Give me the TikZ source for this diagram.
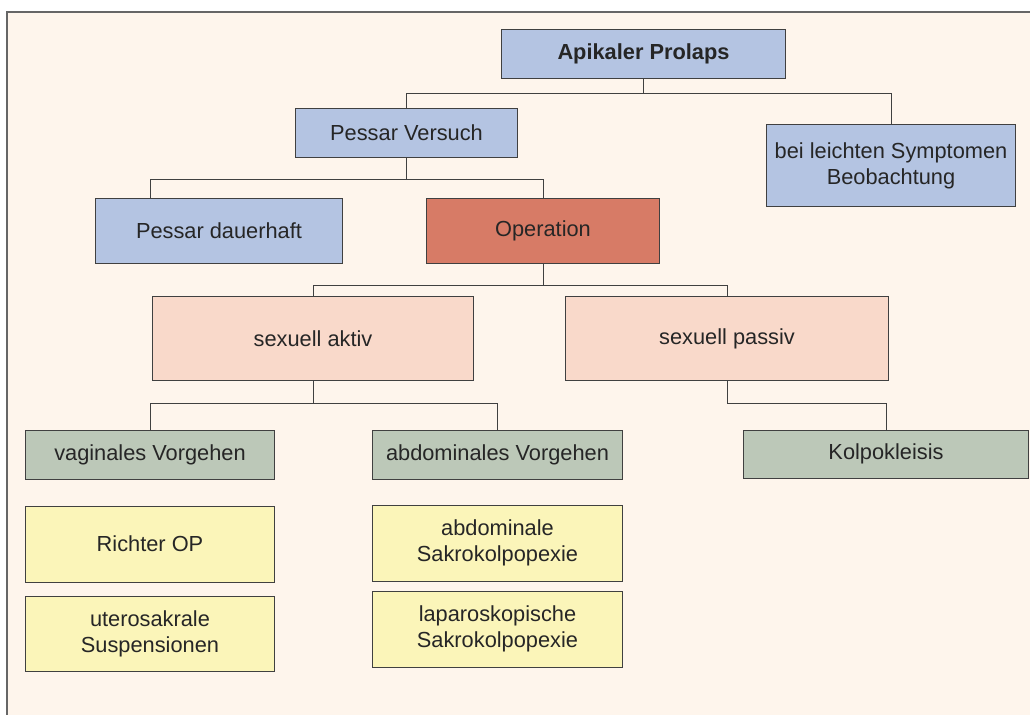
\documentclass[tikz,border=0pt]{standalone}
\usepackage{fontspec}
\setmainfont{Liberation Sans}
\definecolor{paper}{HTML}{FEF5EC}
\definecolor{boxblue}{HTML}{B4C4E2}
\definecolor{boxred}{HTML}{D77B66}
\definecolor{boxrose}{HTML}{F9D9CA}
\definecolor{boxgreen}{HTML}{BCC8B8}
\definecolor{boxyellow}{HTML}{FBF5B9}
\begin{document}
\begin{tikzpicture}[x=0.025cm,y=-0.025cm,
	box/.style={draw=black!75, line width=0.7pt, text=black!85, align=center, inner sep=0pt,
		font=\fontsize{15.5}{18.5}\selectfont},
	edge/.style={draw=black!75, line width=0.7pt}]
	\useasboundingbox (0,0) rectangle (1030,715);
	\fill[paper] (7,12) rectangle (1030,715);
	\draw[black!60, line width=1pt] (7,715) -- (7,12) -- (1030,12);
	% boxes
	\node (AP) at (643.5, 54)	[box, fill = boxblue,   minimum width=7.075cm, minimum height=1.2cm]	{\textbf{Apikaler Prolaps}};
	\node (PV) at (406.5,133)	[box, fill = boxblue,   minimum width=5.525cm, minimum height=1.2cm]	{Pessar Versuch};
	\node (BL) at (891,165.5)	[box, fill = boxblue,   minimum width=6.2cm,   minimum height=2.025cm]	{bei leichten Symptomen\\Beobachtung};
	\node (PD) at (219,231)		[box, fill = boxblue,   minimum width=6.15cm,  minimum height=1.6cm]	{Pessar dauerhaft};
	\node (OP) at (543,231)		[box, fill = boxred,    minimum width=5.8cm,   minimum height=1.6cm]	{Operation};
	\node (SA) at (313,338.5)	[box, fill = boxrose,   minimum width=8cm,     minimum height=2.075cm]	{sexuell aktiv};
	\node (SP) at (727,338.5)	[box, fill = boxrose,   minimum width=8.05cm,  minimum height=2.075cm]	{sexuell passiv};
	\node (VV) at (150,454.5)	[box, fill = boxgreen,  minimum width=6.2cm,   minimum height=1.225cm]	{vaginales Vorgehen};
	\node (AV) at (497.5,454.5)	[box, fill = boxgreen,  minimum width=6.225cm, minimum height=1.225cm]	{abdominales Vorgehen};
	\node (KO) at (886,454)		[box, fill = boxgreen,  minimum width=7.1cm,   minimum height=1.2cm]	{Kolpokleisis};
	\node (RO) at (150,544)		[box, fill = boxyellow, minimum width=6.2cm,   minimum height=1.9cm]	{Richter OP};
	\node (US) at (150,633.5)	[box, fill = boxyellow, minimum width=6.2cm,   minimum height=1.875cm]	{uterosakrale\\Suspensionen};
	\node (AS) at (497.5,543)	[box, fill = boxyellow, minimum width=6.225cm, minimum height=1.9cm]	{abdominale\\Sakrokolpopexie};
	\node (LS) at (497.5,629)	[box, fill = boxyellow, minimum width=6.225cm, minimum height=1.9cm]	{laparoskopische\\Sakrokolpopexie};
	% connectors
	\draw[edge] (AP.south) -- ++(0,15) -| (PV.north);
	\draw[edge] (AP.south) -- ++(0,15) -| (BL.north);
	\draw[edge] (PV.south) -- ++(0,22) -| (VV.north |- PD.north);
	\draw[edge] (PV.south) -- ++(0,22) -| (OP.north);
	\draw[edge] (OP.south) -- ++(0,22) -| (SA.north);
	\draw[edge] (OP.south) -- ++(0,22) -| (SP.north);
	\draw[edge] (SA.south) -- ++(0,23) -| (VV.north);
	\draw[edge] (SA.south) -- ++(0,23) -| (AV.north);
	\draw[edge] (SP.south) -- ++(0,23) -| (KO.north);
\end{tikzpicture}
\end{document}
